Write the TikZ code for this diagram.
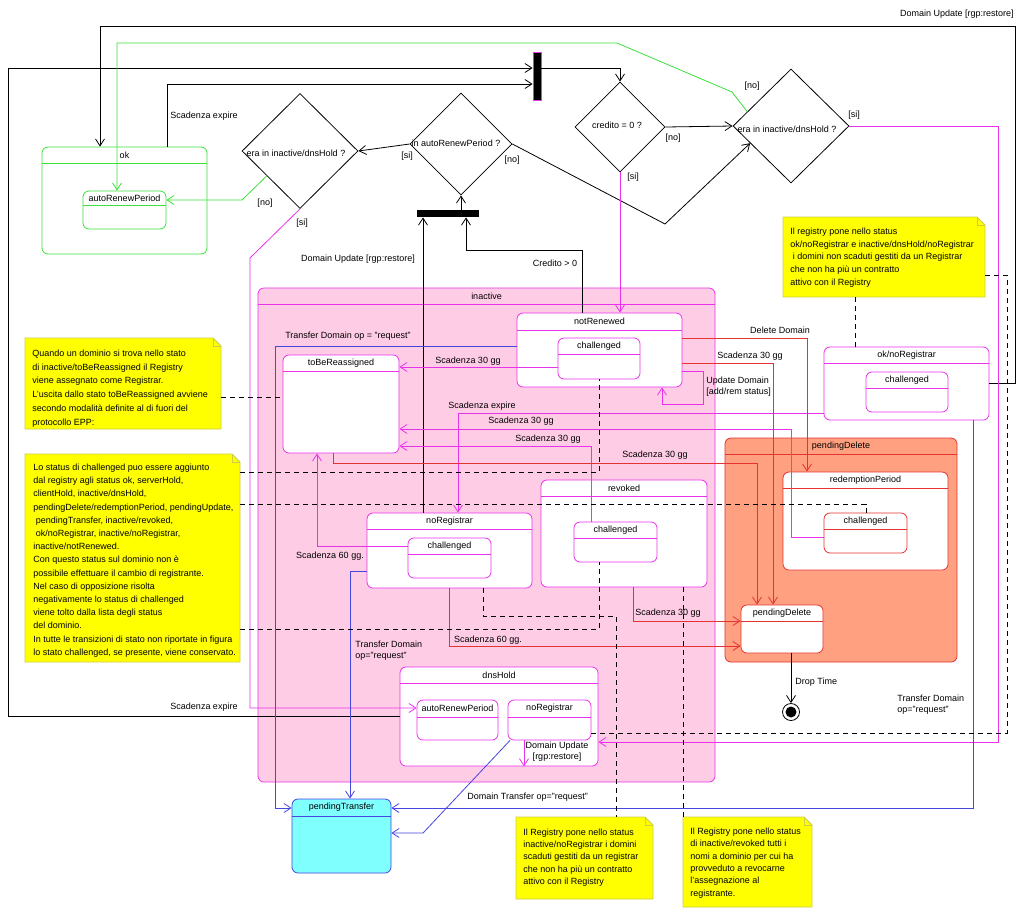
\documentclass[tikz,border=0pt]{standalone}
\usepackage{fontspec}
\setmainfont{Liberation Sans}
\usetikzlibrary{arrows.meta,shapes.geometric,calc}
\definecolor{cM}{RGB}{235,50,235}
\definecolor{cPink}{RGB}{255,204,230}
\definecolor{cG}{RGB}{60,225,60}
\definecolor{cR}{RGB}{230,50,50}
\definecolor{cSal}{RGB}{255,160,128}
\definecolor{cB}{RGB}{70,70,225}
\definecolor{cCy}{RGB}{128,255,255}
\definecolor{cY}{RGB}{255,255,0}
\definecolor{cYb}{RGB}{205,205,70}
% name x1 y1 x2 y2 ydiv title border fill
\newcommand\mystate[9]{%
  \node[draw=#8, fill=#9, rounded corners=6pt, minimum width={(#4)-(#2)}, minimum height={(#5)-(#3)}] (#1) at ({((#2)+(#4))/2},{((#3)+(#5))/2}) {};
  \draw[#8] (#2,#6) -- (#4,#6);
  \node (#1t) at ({((#2)+(#4))/2},{((#3)+(#6))/2}) {#7};
}
% name x1 y1 x2 y2
\newcommand\mynote[5]{%
  \node[minimum width={(#4)-(#2)}, minimum height={(#5)-(#3)}] (#1) at ({((#2)+(#4))/2},{((#3)+(#5))/2}) {};
  \filldraw[fill=cY, draw=cYb] (#2,#3) -- ({(#4)-8},#3) -- (#4,{(#3)+8}) -- (#4,#5) -- (#2,#5) -- cycle;
  \draw[cYb] ({(#4)-8},#3) -- ({(#4)-8},{(#3)+8}) -- (#4,{(#3)+8});
}
\begin{document}
\begin{tikzpicture}[x=1pt,y=-1pt,line width=0.8pt,
  every node/.style={inner sep=0pt,font=\fontsize{9}{11}\selectfont},
  arr/.style={-{Straight Barb[length=7pt,width=9pt]}},
  dsh/.style={dash pattern=on 5pt off 4pt},
  ml/.style={align=left,anchor=west}]
\fill[white] (0,0) rectangle (1024,916);
\useasboundingbox (0,0) rectangle (1024,916);

% ---------- states ----------
\mystate{ok}{42}{147}{207}{254}{163}{ok}{cG}{white}
\mystate{okARP}{83}{191}{166}{229}{205}{autoRenewPeriod}{cG}{white}
\mystate{ina}{258}{288}{715}{782}{304}{inactive}{cM}{cPink}
\mystate{tbr}{283}{355}{399}{453}{371}{toBeReassigned}{cM}{white}
\mystate{nR}{517}{313}{682}{387}{330}{notRenewed}{cM}{white}
\mystate{nRc}{558}{338}{640}{379}{354}{challenged}{cM}{white}
\mystate{nReg}{367}{513}{532}{588}{529}{noRegistrar}{cM}{white}
\mystate{nRegc}{408}{538}{491}{578}{554}{challenged}{cM}{white}
\mystate{rev}{541}{480}{707}{587}{496}{revoked}{cM}{white}
\mystate{revc}{574}{522}{657}{562}{538}{challenged}{cM}{white}
\mystate{dns}{400}{667}{598}{766}{683}{dnsHold}{cM}{white}
\mystate{dnsARP}{417}{700}{498}{740}{717}{autoRenewPeriod}{cM}{white}
\mystate{dnsNR}{508}{700}{591}{740}{717}{noRegistrar}{cM}{white}
\mystate{okNR}{824}{347}{989}{420}{363}{ok/noRegistrar}{cM}{white}
\mystate{okNRc}{866}{372}{948}{412}{388}{challenged}{cM}{white}
\mystate{pD}{725}{438}{957}{662}{454}{pendingDelete}{cR}{cSal}
\mystate{rp}{783}{472}{948}{570}{488}{redemptionPeriod}{cR}{white}
\mystate{rpc}{824}{513}{907}{553}{529}{challenged}{cR}{white}
\mystate{pDi}{741}{605}{823}{653}{621}{pendingDelete}{cR}{white}
\mystate{pT}{292}{799}{391}{873}{816}{pendingTransfer}{cB}{cCy}

% ---------- decisions, bars, final ----------
\node[diamond, draw, minimum width=116, minimum height=115] (D1) at (300,151) {};
\node (D1t) at (296,153) {era in inactive/dnsHold ?};
\node[diamond, draw, minimum width=102, minimum height=102] (D2) at (461,144) {};
\node (D2t) at (456,143) {in autoRenewPeriod ?};
\node[diamond, draw, minimum width=90, minimum height=90] (D3) at (620,127) {};
\node (D3t) at (617,125) {credito = 0 ?};
\node[diamond, draw, minimum width=116, minimum height=114] (D4) at (791,126) {};
\node (D4t) at (787,129) {era in inactive/dnsHold ?};
\node[fill=black, draw=cM, minimum width=8, minimum height=48] (bar1) at (537,76) {};
\node[fill=black, minimum width=62, minimum height=7] (bar2) at (448,213.5) {};
\node[circle, draw, minimum size=17] (fin) at (791,712) {};
\fill (fin.center) circle (5.5);

% ---------- notes ----------
\mynote{n1}{25}{338}{221}{429}
\node[ml,font=\fontsize{9}{13.8}\selectfont] (n1t) at (32,388.5) {Quando un dominio si trova nello stato\\di inactive/toBeReassigned il Registry\\viene assegnato come Registrar.\\L'uscita dallo stato toBeReassigned avviene\\secondo modalità definite al di fuori del\\protocollo EPP:};
\mynote{n2}{25}{454}{240}{662}
\node[ml,font=\fontsize{9}{13.2}\selectfont] (n2t) at (33,560.5) {Lo status di challenged puo essere aggiunto\\dal registry agli status ok, serverHold,\\clientHold, inactive/dnsHold,\\pendingDelete/redemptionPeriod, pendingUpdate,\\\hspace{2.5pt}pendingTransfer, inactive/revoked,\\\hspace{2.5pt}ok/noRegistrar, inactive/noRegistrar,\\inactive/notRenewed.\\Con questo status sul dominio non è\\possibile effettuare il cambio di registrante.\\Nel caso di opposizione risolta\\negativamente lo status di challenged\\viene tolto dalla lista degli status\\del dominio.\\In tutte le transizioni di stato non riportate in figura\\lo stato challenged, se presente, viene conservato.};
\mynote{n3}{783}{217}{985}{297}
\node[ml,font=\fontsize{9}{12.7}\selectfont] (n3t) at (790,257.5) {Il registry pone nello status\\ok/noRegistrar e inactive/dnsHold/noRegistrar\\\hspace{2.5pt}i domini non scaduti gestiti da un Registrar\\che non ha più un contratto\\attivo con il Registry};
\mynote{n4}{516}{817}{653}{899}
\node[ml,font=\fontsize{9}{12.2}\selectfont] (n4t) at (523,857.5) {Il Registry pone nello status\\inactive/noRegistrar i domini\\scaduti gestiti da un registrar\\che non ha più un contratto\\attivo con il Registry};
\mynote{n5}{683}{817}{812}{907}
\node[ml,font=\fontsize{9}{12.4}\selectfont] (n5t) at (690,863) {Il Registry pone nello status\\di inactive/revoked tutti i\\nomi a dominio per cui ha\\provveduto a revocarne\\l'assegnazione al\\registrante.};

% ---------- black connectors ----------
\draw[arr] (ok.north -| 167,0) |- (bar1.west |- 0,84);
\draw[arr] (dns.west |- 0,716) -| (8,68) -- (bar1.west |- 0,68);
\draw[arr] (bar1.east |- 0,68) -| (D3.north);
\draw[arr] (okNR.east |- 0,383) -- (1015,383) -- (1015,26) -| (ok.north -| 100,0);
\draw[arr] (D3.east) -- (D4.west);
\draw[arr] (D2.east) -- (665,224) -- ($(D4.west)!0.3!(D4.south)$);
\draw[arr] (D2.west) -- (D1.east);
\draw[arr] (bar2.north -| D2.south) -- (D2.south);
\draw[arr] (nReg.north -| 423,0) -- (bar2.south -| 423,0);
\draw[arr] (nR.north -| 582,0) |- (466,250) -- (bar2.south -| 466,0);
\draw[arr] (pDi.south -| fin.north) -- (fin.north);

% ---------- green ----------
\draw[cG,arr] ($(D4.west)!0.25!(D4.north)$) -- (732,92) -- (617,43) -| (okARP.north -| 117,0);
\draw[cG,arr] ($(D1.west)!0.43!(D1.south)$) -- (242,200) -- (okARP.east |- 0,200);

% ---------- magenta ----------
\draw[cM,arr] (D1.south) -- (250,258) |- (dnsARP.west |- 0,708);
\draw[cM,arr] (D4.east) -| (998,742) -- (dns.east |- 0,742);
\draw[cM,arr] (D3.south) -- (nR.north -| D3.south);
\draw[cM,arr] (nRc.west |- 0,367) -- (tbr.east |- 0,367);
\draw[cM,arr] (nR.east |- 0,371) -| (703,404) -| (nR.south -| 662,0);
\draw[cM,arr] (okNR.west |- 0,413) -| (nReg.north -| 458,0);
\draw[cM,arr] (rpc.west |- 0,537) -| (791,429) -- (tbr.east |- 0,429);
\draw[cM,arr] (revc.north -| 591,0) |- (tbr.east |- 0,446);
\draw[cM,arr] (nRegc.west |- 0,546) -| (tbr.south -| 317,0);
\draw[cM,arr] (dnsNR.south -| 524,0) -- (dns.south -| 524,0);

% ---------- red ----------
\draw[cR,arr] (nR.east |- 0,338) -| (rp.north -| 807,0);
\draw[cR,arr] (nR.east |- 0,363) -| (pDi.north -| 773,0);
\draw[cR,arr] (tbr.south -| 333,0) -- (333,463) -| (pDi.north -| 757,0);
\draw[cR,arr] (rev.south -| 633,0) |- (pDi.west |- 0,621);
\draw[cR,arr] (nReg.south -| 449,0) |- (pDi.west |- 0,646);

% ---------- blue ----------
\draw[cB,arr] (nR.west |- 0,346) -| (275,808) -- (pT.west |- 0,808);
\draw[cB,arr] (nReg.west |- 0,571) -| (pT.north -| 350,0);
\draw[cB,arr] (okNR.south -| 973,0) |- (pT.east |- 0,808);
\draw[cB,arr] (dnsNR.south -| 510,0) -- (423,833) -- (pT.east |- 0,833);

% ---------- dashed note links ----------
\draw[dsh] (n1.east |- 0,397) -- (tbr.west |- 0,397);
\draw[dsh] (n2.east |- 0,472) -| (nRc.south -| 599,0);
\draw[dsh] (n2.east |- 0,504) -| (rpc.north -| 866,0);
\draw[dsh] (n2.east |- 0,629) -| (revc.south -| 599,0);
\draw[dsh] (nReg.south -| 483,0) |- (616,616) -- (n4.north -| 616,0);
\draw[dsh] (rev.south -| 683,0) -- (n5.north -| 683,0);
\draw[dsh] (n3.south -| 855,0) -- (okNR.north -| 855,0);
\draw[dsh] (n3.east |- 0,275) -| (1007,733) -- (dnsNR.east |- 0,733);

% ---------- labels ----------
\node (L1) at (204,116) {Scadenza expire};
\node (L2) at (204,707) {Scadenza expire};
\node[anchor=east] (L3) at (1014,14) {Domain Update [rgp:restore]};
\node (L4) at (673,138) {[no]};
\node (L5) at (633,177) {[si]};
\node (L6) at (752,86) {[no]};
\node (L7) at (854,115) {[si]};
\node (L8) at (512,160) {[no]};
\node (L9) at (407,156) {[si]};
\node (L10) at (265,203) {[no]};
\node (L11) at (302,223) {[si]};
\node (L12) at (358,259) {Domain Update [rgp:restore]};
\node (L13) at (555,263) {Credito > 0};
\node (L14) at (348,336) {Transfer Domain op = "request"};
\node (L15) at (468,361) {Scadenza 30 gg};
\node[ml] (L16) at (706,387) {Update Domain\\{[add/rem status]}};
\node (L17) at (780,330) {Delete Domain};
\node (L18) at (750,356) {Scadenza 30 gg};
\node (L19) at (482,406) {Scadenza expire};
\node (L20) at (521,421) {Scadenza 30 gg};
\node (L21) at (548,439) {Scadenza 30 gg};
\node (L22) at (655,455) {Scadenza 30 gg};
\node (L23) at (330,556) {Scadenza 60 gg.};
\node[ml] (L24) at (355,651) {Transfer Domain\\op="request"};
\node (L25) at (668,613) {Scadenza 30 gg};
\node (L26) at (488,640) {Scadenza 60 gg.};
\node[anchor=west] (L27) at (795,682) {Drop Time};
\node[ml] (L28) at (897,705) {Transfer Domain\\op="request"};
\node[align=center] (L29) at (557,752) {Domain Update\\{[rgp:restore]}};
\node[anchor=west] (L30) at (467,797) {Domain Transfer op="request"};
\end{tikzpicture}
\end{document}
